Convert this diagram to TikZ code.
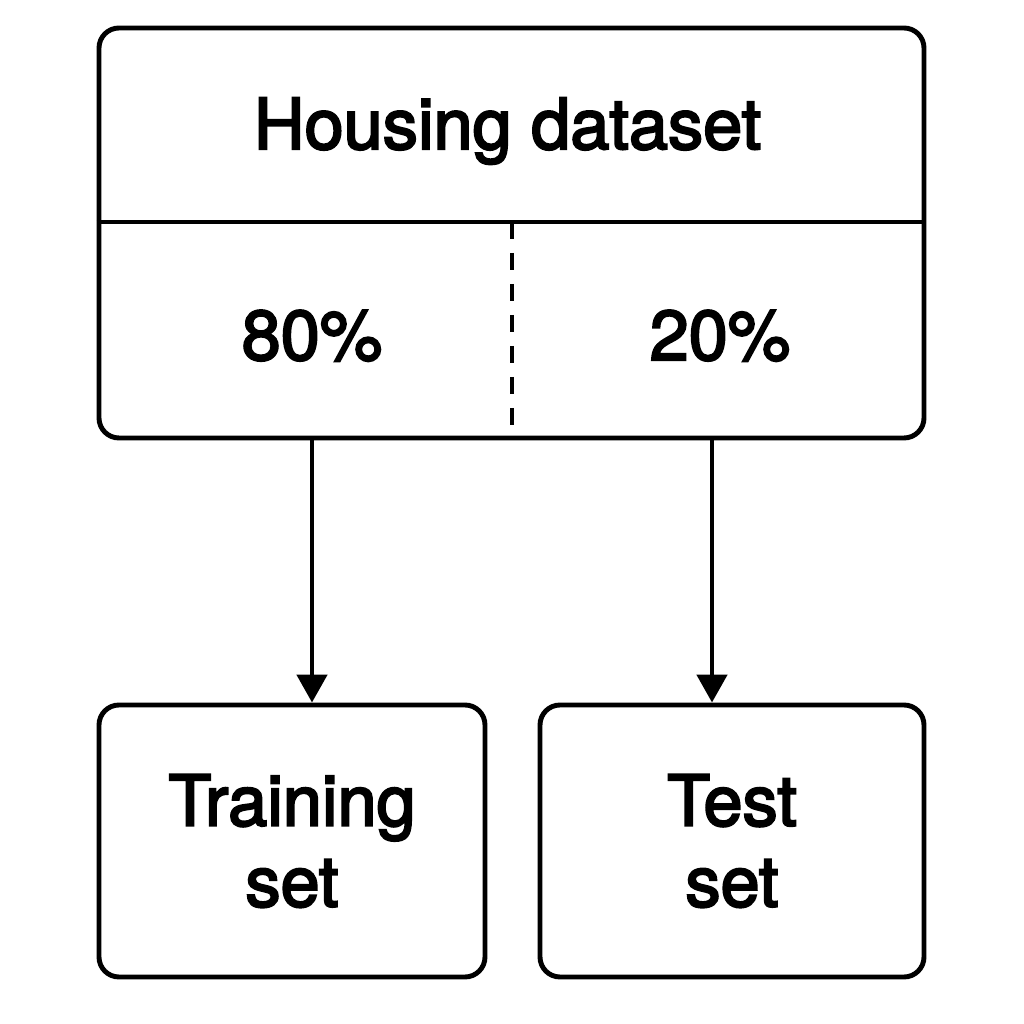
\documentclass[tikz,border=0pt]{standalone}
\usepackage{fontspec}
\setmainfont{TeX Gyre Heros}[FakeBold=3]
\usepackage{tikz}
\usetikzlibrary{positioning,calc}
\usetikzlibrary{arrows.meta}
\tikzstyle{box} = [draw, line width=1.4pt, rounded corners=0.2cm, align=center]
\tikzstyle{txt} = [anchor=base]
\tikzstyle{arrow} = [line width=1.4pt, -{Triangle[length=0.28cm, width=0.3cm]}]

\begin{document}
\begin{tikzpicture}[every node/.style={font=\fontsize{20}{23}\selectfont}]
    \useasboundingbox (0,0) rectangle (10.24,10.24);
    % dataset box with split
    \node[box, minimum width=8.25cm, minimum height=4.1cm] (data) at (5.115,7.91) {};
    \coordinate (cut) at (5.12,8.02);
    \draw[line width=1.4pt] (data.west |- cut) -- (data.east |- cut);
    \draw[line width=1.4pt, dash pattern=on 0.17cm off 0.14cm] (cut) -- (cut |- data.south);
    \node[txt] (title) at (5.075,8.75) {Housing dataset};
    \node[txt] (p80) at (3.12,6.64) {80\%};
    \node[txt] (p20) at (7.2,6.64) {20\%};
    % the two sets
    \node[box, minimum width=3.86cm, minimum height=2.72cm] (train) at (2.92,1.83) {Training\\set};
    \node[box, minimum width=3.84cm, minimum height=2.72cm] (test) at (7.32,1.83) {Test\\set};
    \coordinate (a1) at (3.12,0);
    \coordinate (a2) at (7.12,0);
    \draw[arrow] (a1 |- data.south) -- (a1 |- train.north);
    \draw[arrow] (a2 |- data.south) -- (a2 |- test.north);
\end{tikzpicture}
\end{document}
